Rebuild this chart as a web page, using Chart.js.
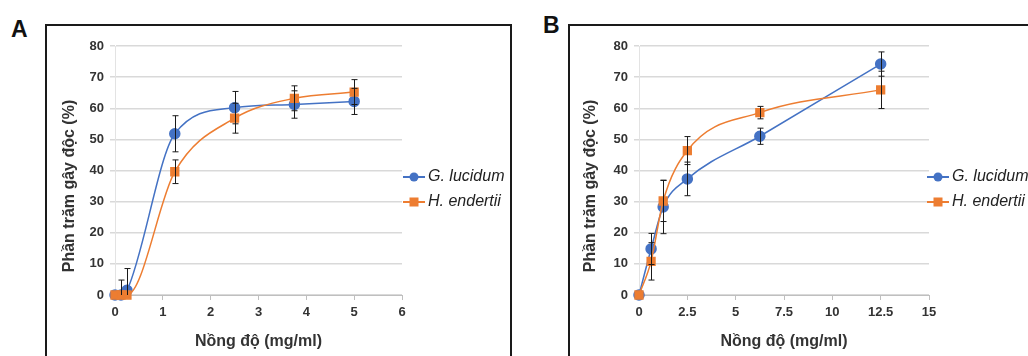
<!DOCTYPE html>
<html>
<head>
<meta charset="utf-8">
<script src="https://cdn.jsdelivr.net/npm/chart.js@4.4.0/dist/chart.umd.min.js"></script>
<style>
  body { margin: 0; background: #fff; width: 1028px; height: 356px; overflow: hidden; position: relative; font-family: "Liberation Sans", Arial, sans-serif; }
  .frame { position: absolute; top: 24px; height: 420px; border: 2px solid #1a1a1a; box-sizing: border-box; }
  #frameA { left: 45px; width: 467px; }
  #frameB { left: 568px; width: 520px; }
  .tag { position: absolute; font-weight: bold; font-size: 23px; color: #111; }
  canvas { position: absolute; }
  #chartA { left: 47px; top: 26px; }
  #chartB { left: 570px; top: 26px; }
</style>
</head>
<body>
<div class="frame" id="frameA"></div>
<div class="frame" id="frameB"></div>
<div class="tag" style="left:11px;top:16px;">A</div>
<div class="tag" style="left:543px;top:12px;">B</div>
<canvas id="chartA" width="462" height="330"></canvas>
<canvas id="chartB" width="458" height="330"></canvas>
<script>
// Panel A
const dosesA = [0, 0.125, 0.25, 1.25, 2.5, 3.75, 5];
const lucidumA = [0, 0, 1.5, 51.8, 60.2, 61.2, 62.2];
const lucidumErrA = [0, 4.8, 7, 5.8, 5.2, 4.4, 4.2];
const endertiiA = [0, 0, 0, 39.6, 56.8, 63.2, 65.2];
const endertiiErrA = [0, 0, 0, 3.8, 4.8, 4, 4];

// Panel B
const dosesB = [0, 0.625, 1.25, 2.5, 6.25, 12.5];
const lucidumB = [0, 14.8, 28.3, 37.3, 51, 74.2];
const lucidumErrB = [0, 5, 8.6, 5.4, 2.6, 3.9];
const endertiiB = [0, 10.8, 30.2, 46.4, 58.6, 65.9];
const endertiiErrB = [0, 6, 6.6, 4.5, 2, 6];

const yTicks = [0, 10, 20, 30, 40, 50, 60, 70, 80];
const seriesNames = ['G. lucidum', 'H. endertii'];
const yTitle = 'Phần trăm gây độc (%)';
const xTitle = 'Nồng độ (mg/ml)';
const blue = '#4472C4';
const orange = '#ED7D31';
const fam = '"Liberation Sans", Arial, sans-serif';

function pts(xs, ys) { return xs.map((x, i) => ({ x: x, y: ys[i] })); }

const errorBars = {
    id: 'errorBars',
    afterDatasetsDraw(chart) {
        const ctx = chart.ctx;
        const xs = chart.scales.x, ys = chart.scales.y;
        ctx.save();
        ctx.strokeStyle = '#1a1a1a';
        ctx.lineWidth = 1;
        chart.data.datasets.forEach(ds => {
            ds.data.forEach((p, i) => {
                const e = ds.errors[i];
                if (!e) return;
                const px = Math.round(xs.getPixelForValue(p.x)) + 0.5;
                const top = ys.getPixelForValue(p.y + e);
                const bot = ys.getPixelForValue(Math.max(0, p.y - e));
                ctx.beginPath();
                ctx.moveTo(px, top); ctx.lineTo(px, bot);
                ctx.moveTo(px - 3, top); ctx.lineTo(px + 3, top);
                if (p.y - e > 0) { ctx.moveTo(px - 3, bot); ctx.lineTo(px + 3, bot); }
                ctx.stroke();
            });
        });
        ctx.restore();
    }
};

// Excel-style legend (line + marker) and y title placed like the original
const sideLegend = {
    id: 'sideLegend',
    afterDraw(chart, args, opts) {
        const ctx = chart.ctx;
        ctx.save();
        chart.data.datasets.forEach((ds, i) => {
            const y = opts.y + i * opts.gap;
            ctx.strokeStyle = ds.borderColor;
            ctx.lineWidth = 2;
            ctx.beginPath();
            ctx.moveTo(opts.x, y); ctx.lineTo(opts.x + 22, y);
            ctx.stroke();
            ctx.fillStyle = ds.backgroundColor;
            if (ds.pointStyle === 'rect') {
                ctx.fillRect(opts.x + 11 - 4.5, y - 4.5, 9, 9);
            } else {
                ctx.beginPath(); ctx.arc(opts.x + 11, y, 4.5, 0, Math.PI * 2); ctx.fill();
            }
            ctx.fillStyle = '#222';
            ctx.font = 'italic 16px ' + fam;
            ctx.textBaseline = 'middle';
            ctx.fillText(ds.label, opts.x + 25, y);
        });
        ctx.translate(opts.titleX, opts.titleY);
        ctx.rotate(-Math.PI / 2);
        ctx.fillStyle = '#333';
        ctx.font = 'bold 16px ' + fam;
        ctx.textAlign = 'center';
        ctx.textBaseline = 'middle';
        ctx.fillText(yTitle, 0, 0);
        ctx.restore();
    }
};

function makeChart(id, xs, s1, e1, s2, e2, xMax, xStep, layout) {
    const tickFont = { family: fam, size: 13, weight: 'bold' };
    const titleFont = { family: fam, size: 16, weight: 'bold' };
    return new Chart(document.getElementById(id), {
        type: 'line',
        data: {
            datasets: [
                { label: seriesNames[0], data: pts(xs, s1), errors: e1, borderColor: blue, backgroundColor: blue, order: 1,
                  pointStyle: 'circle', pointRadius: 5, borderWidth: 1.5, cubicInterpolationMode: 'monotone', clip: false },
                { label: seriesNames[1], data: pts(xs, s2), errors: e2, borderColor: orange, backgroundColor: orange, order: 0,
                  pointStyle: 'rect', pointRadius: 5.5, borderWidth: 1.5, cubicInterpolationMode: 'monotone', clip: false }
            ]
        },
        options: {
            responsive: false,
            animation: false,
            layout: { padding: { left: 0, top: 20, right: layout.right, bottom: 0 } },
            scales: {
                x: {
                    type: 'linear', min: 0, max: xMax,
                    afterFit: s => { s.height = 61; },
                    afterBuildTicks: s => { s.ticks = []; for (let v = 0; v <= xMax + 1e-9; v += xStep) s.ticks.push({ value: v }); },
                    grid: { drawOnChartArea: false, drawTicks: true, tickLength: 5, color: '#bfbfbf' },
                    border: { color: '#bfbfbf', width: 1 },
                    ticks: { color: '#333', font: tickFont, padding: 5, maxRotation: 0 },
                    title: { display: true, text: xTitle, color: '#333', font: titleFont, padding: { top: 2, bottom: 5 } }
                },
                y: {
                    min: 0, max: 80,
                    afterFit: s => { s.width = layout.left; },
                    afterBuildTicks: s => { s.ticks = yTicks.map(v => ({ value: v })); },
                    grid: { color: '#d9d9d9', lineWidth: 1.5, tickLength: 5 },
                    border: { display: true, color: '#e3e3e3' },
                    ticks: { color: '#333', font: tickFont, padding: 6 }
                }
            },
            plugins: {
                legend: { display: false },
                tooltip: { enabled: false },
                sideLegend: { x: layout.legendX, y: 151, gap: 25, titleX: layout.titleX, titleY: 160 }
            }
        },
        plugins: [errorBars, sideLegend]
    });
}

makeChart('chartA', dosesA, lucidumA, lucidumErrA, endertiiA, endertiiErrA, 6, 1,
    { left: 68, right: 107, legendX: 356, titleX: 23 });
makeChart('chartB', dosesB, lucidumB, lucidumErrB, endertiiB, endertiiErrB, 15, 2.5,
    { left: 69, right: 99, legendX: 357, titleX: 21 });
</script>
</body>
</html>
